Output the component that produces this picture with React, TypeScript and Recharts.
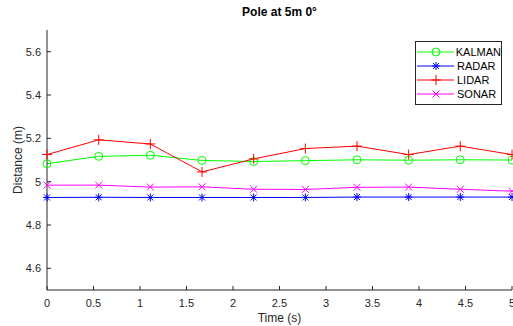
import React from 'react';
import { LineChart, Line, XAxis, YAxis, Label } from 'recharts';

const TIME = [0, 0.556, 1.111, 1.667, 2.222, 2.778, 3.333, 3.889, 4.444, 5];
const KALMAN = [5.083, 5.117, 5.122, 5.098, 5.093, 5.097, 5.101, 5.099, 5.101, 5.1];
const RADAR = [4.927, 4.928, 4.927, 4.927, 4.927, 4.927, 4.929, 4.929, 4.929, 4.929];
const LIDAR = [5.125, 5.193, 5.174, 5.045, 5.105, 5.153, 5.164, 5.125, 5.164, 5.125];
const SONAR = [4.984, 4.984, 4.975, 4.976, 4.965, 4.964, 4.974, 4.975, 4.965, 4.956];
const X_TICKS = [0, 0.5, 1, 1.5, 2, 2.5, 3, 3.5, 4, 4.5, 5];
const Y_TICKS = [4.6, 4.8, 5, 5.2, 5.4, 5.6];

const SERIES = [
  { key: 'kalman', name: 'KALMAN', color: '#00ff00', marker: 'circle', values: KALMAN },
  { key: 'radar', name: 'RADAR', color: '#0000ff', marker: 'star', values: RADAR },
  { key: 'lidar', name: 'LIDAR', color: '#ff0000', marker: 'plus', values: LIDAR },
  { key: 'sonar', name: 'SONAR', color: '#ff00ff', marker: 'cross', values: SONAR },
];

const data = TIME.map((t, i) => {
  const row: Record<string, number> = { t };
  SERIES.forEach((s) => (row[s.key] = s.values[i]));
  return row;
});

const W = 513;
const H = 326;
const TOP = 30;
const LEFT = 47;
const BOTTOM_H = 36;
const PLOT_BOTTOM = H - BOTTOM_H;
const AXIS = '#262626';
const FONT = '"Liberation Sans", Arial, sans-serif';

const Marker = ({ type, x, y, color }: { type: string; x: number; y: number; color: string }) => {
  if (type === 'circle') return <circle cx={x} cy={y} r={4} fill="none" stroke={color} strokeWidth={1} />;
  if (type === 'plus')
    return (
      <path d={`M${x - 5},${y}H${x + 5}M${x},${y - 5}V${y + 5}`} stroke={color} strokeWidth={1} fill="none" />
    );
  if (type === 'cross')
    return (
      <path
        d={`M${x - 3.5},${y - 3.5}L${x + 3.5},${y + 3.5}M${x - 3.5},${y + 3.5}L${x + 3.5},${y - 3.5}`}
        stroke={color}
        strokeWidth={1}
        fill="none"
      />
    );
  return (
    <path
      d={`M${x - 4},${y}H${x + 4}M${x},${y - 4}V${y + 4}M${x - 3},${y - 3}L${x + 3},${y + 3}M${x - 3},${y + 3}L${x + 3},${y - 3}`}
      stroke={color}
      strokeWidth={1}
      fill="none"
    />
  );
};

const makeDot = (type: string, color: string) => (p: any) =>
  p.cx == null ? <g key={p.index} /> : (
    <g key={`${type}-${p.index}`}>
      <Marker type={type} x={p.cx} y={p.cy} color={color} />
    </g>
  );

const BottomTick = (p: any) => (
  <g>
    <line x1={p.x} x2={p.x} y1={PLOT_BOTTOM} y2={PLOT_BOTTOM - 4} stroke={AXIS} />
    <text x={p.x} y={PLOT_BOTTOM + 17} textAnchor="middle" fontSize={11} fill={AXIS} fontFamily={FONT}>
      {p.payload.value}
    </text>
  </g>
);

const TopTick = (p: any) => <line x1={p.x} x2={p.x} y1={TOP} y2={TOP + 4} stroke={AXIS} />;

const LeftTick = (p: any) => (
  <g>
    <line x1={LEFT} x2={LEFT + 4} y1={p.y} y2={p.y} stroke={AXIS} />
    <text x={LEFT - 6} y={p.y + 4} textAnchor="end" fontSize={11} fill={AXIS} fontFamily={FONT}>
      {p.payload.value}
    </text>
  </g>
);

const RightTick = (p: any) => <line x1={W - 1} x2={W - 5} y1={p.y} y2={p.y} stroke={AXIS} />;

const LegendBox = () => (
  <div
    style={{
      position: 'absolute',
      top: 41,
      left: 415,
      border: `1px solid ${AXIS}`,
      background: '#fff',
      width: 85,
      padding: '3px 0',
      fontFamily: FONT,
      fontSize: 11,
      color: '#000',
    }}
  >
    {SERIES.map((s) => (
      <div key={s.key} style={{ display: 'flex', alignItems: 'center', height: 14 }}>
        <svg width={40} height={14} style={{ display: 'block' }}>
          <line x1={1} x2={38} y1={7} y2={7} stroke={s.color} />
          <Marker type={s.marker} x={20} y={7} color={s.color} />
        </svg>
        <span style={{ marginLeft: 1 }}>{s.name}</span>
      </div>
    ))}
  </div>
);

export default function App() {
  return (
    <div style={{ position: 'absolute', left: 0, top: 0, width: W, height: H, background: '#fff' }}>
      <div
        style={{
          position: 'absolute',
          top: 5,
          left: LEFT,
          width: W - 1 - LEFT,
          textAlign: 'center',
          fontFamily: FONT,
          fontWeight: 'bold',
          fontSize: 12,
          color: '#000',
        }}
      >
        Pole at 5m 0°
      </div>
      <LineChart width={W} height={H} data={data} margin={{ top: TOP, right: 1, bottom: 0, left: 0 }}>
        <XAxis
          dataKey="t"
          type="number"
          domain={[0, 5]}
          ticks={X_TICKS}
          height={BOTTOM_H}
          tickLine={false}
          tick={BottomTick}
          axisLine={{ stroke: AXIS }}
          interval={0}
        >
          <Label value="Time (s)" position="insideBottom" offset={4} fontSize={12} fill={AXIS} fontFamily={FONT} />
        </XAxis>
        <XAxis
          xAxisId="top"
          orientation="top"
          dataKey="t"
          type="number"
          domain={[0, 5]}
          ticks={X_TICKS}
          height={0}
          tickLine={false}
          tick={TopTick}
          axisLine={{ stroke: AXIS }}
          interval={0}
        />
        <YAxis
          type="number"
          domain={[4.5, 5.7]}
          ticks={Y_TICKS}
          width={LEFT}
          tickLine={false}
          tick={LeftTick}
          axisLine={{ stroke: AXIS }}
          interval={0}
        >
          <Label
            value="Distance (m)"
            angle={-90}
            position="insideLeft"
            offset={18}
            style={{ textAnchor: 'middle' }}
            fontSize={12}
            fill={AXIS}
            fontFamily={FONT}
          />
        </YAxis>
        <YAxis
          yAxisId="right"
          orientation="right"
          type="number"
          domain={[4.5, 5.7]}
          ticks={Y_TICKS}
          width={0}
          tickLine={false}
          tick={RightTick}
          axisLine={{ stroke: AXIS }}
          interval={0}
        />
        {SERIES.map((s) => (
          <Line
            key={s.key}
            dataKey={s.key}
            name={s.name}
            stroke={s.color}
            strokeWidth={1}
            dot={makeDot(s.marker, s.color)}
            activeDot={false}
            isAnimationActive={false}
          />
        ))}
      </LineChart>
      <LegendBox />
    </div>
  );
}
